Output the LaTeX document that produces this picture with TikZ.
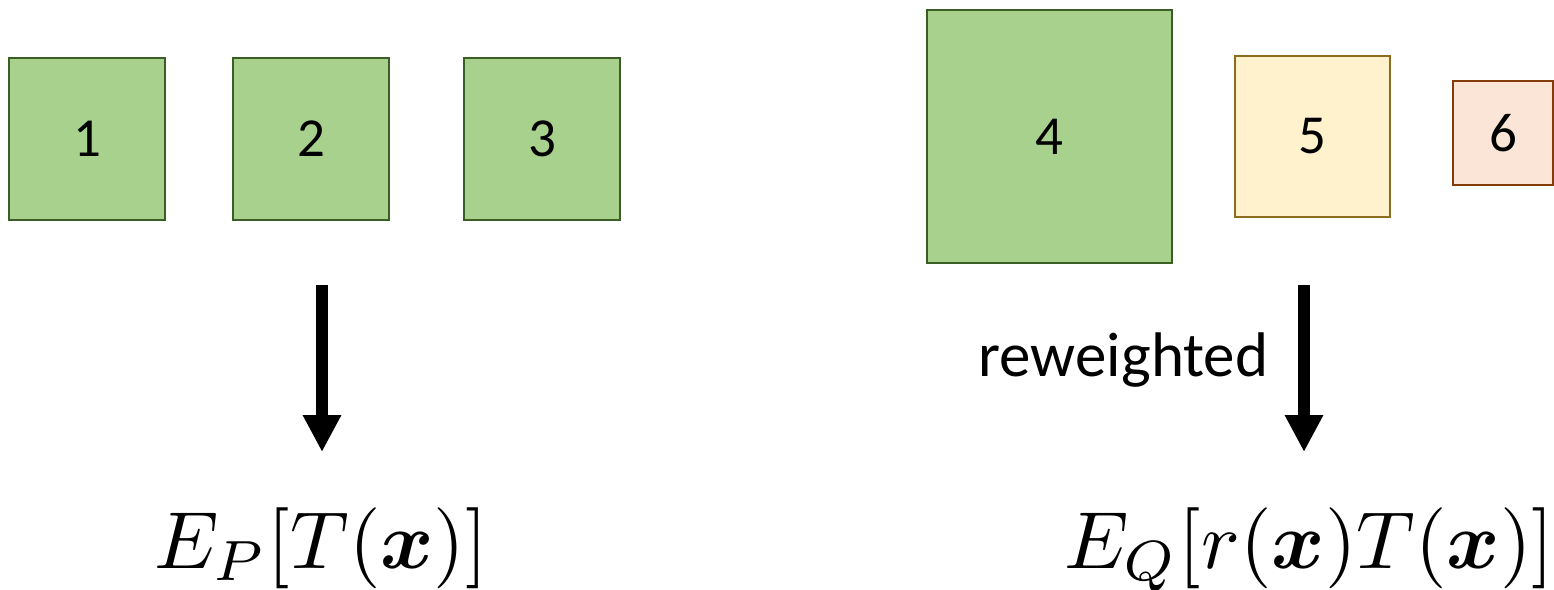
\documentclass[tikz,border=0pt]{standalone}
\usepackage{amsmath}
\usepackage{bm}
\usepackage{graphicx}
\usepackage{fontspec}
\newfontfamily\carl{Carlito}
\usetikzlibrary{arrows.meta}
\definecolor{gfill}{HTML}{A9D18E}
\definecolor{gline}{HTML}{3B5E25}
\definecolor{yfill}{HTML}{FFF2CC}
\definecolor{yline}{HTML}{8C6D1F}
\definecolor{ofill}{HTML}{FBE5D6}
\definecolor{oline}{HTML}{843C0C}
\newcommand{\bigmath}[1]{\scalebox{8.1}{$#1$}}
\newcommand{\dig}[1]{\raisebox{-2.5pt}{#1}}
\tikzset{
  sq/.style={draw, line width=2.8pt, inner sep=0pt, font=\carl\fontsize{55}{58}\selectfont},
  gsq/.style={sq, fill=gfill, draw=gline},
  ysq/.style={sq, fill=yfill, draw=yline},
  osq/.style={sq, fill=ofill, draw=oline},
  bigarrow/.style={line width=12pt, -{Triangle[width=36pt,length=37pt]}},
  mathlbl/.style={anchor=base, inner sep=0pt},
}
\begin{document}
\begin{tikzpicture}[x=1pt,y=-1pt]
\useasboundingbox (0,0) rectangle (1554,589);
\node[gsq, minimum width=156pt, minimum height=162pt] (b1) at (87,139) {\dig{1}};
\node[gsq, minimum width=156pt, minimum height=162pt] (b2) at (311,139) {\dig{2}};
\node[gsq, minimum width=156pt, minimum height=162pt] (b3) at (542,139) {\dig{3}};
\node[gsq, minimum width=245pt, minimum height=253pt] (b4) at (1049.5,136.5) {\dig{4}};
\node[ysq, minimum width=155pt, minimum height=161pt] (b5) at (1312.5,136.5) {\dig{5}};
\node[osq, minimum width=100pt, minimum height=104pt] (b6) at (1503,133) {\dig{6}};

\coordinate (a1s) at (322,285);
\coordinate (a1e) at (322,452);
\coordinate (a2s) at (1304,285);
\coordinate (a2e) at (1304,452);
\draw[bigarrow] (a1s) -- (a1e);
\draw[bigarrow] (a2s) -- (a2e);

\node[font=\carl\fontsize{63}{66}\selectfont, inner sep=0pt] (rw) at (1123.5,360) {reweighted};

\node[mathlbl] (ep) at (321,568) {\bigmath{E_P[T(\bm{x})]}};
\node[mathlbl] (eq) at (1309,568) {\bigmath{E_Q[r(\bm{x})T(\bm{x})]}};
\end{tikzpicture}
\end{document}
